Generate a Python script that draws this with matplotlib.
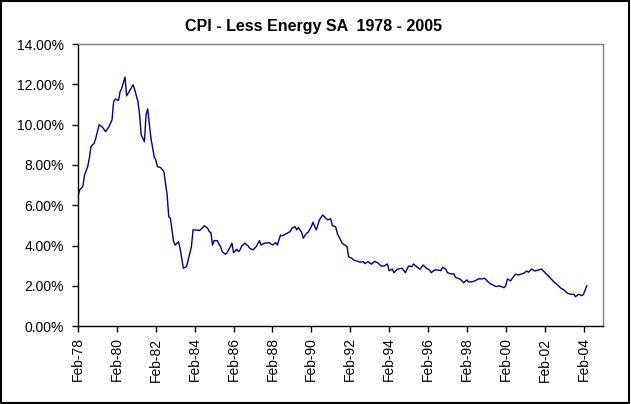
import matplotlib
matplotlib.use("Agg")
import matplotlib.pyplot as plt
from matplotlib.patches import Rectangle
from matplotlib.ticker import FuncFormatter

# months counted from Feb-78, values in percent
months = [0, 1, 3, 4, 6, 7, 8, 10, 11, 13, 15, 17, 19, 21, 22, 23, 25, 26, 27, 29,
          30, 31, 34, 35, 37, 38, 39, 41, 42, 43, 44, 45, 47, 48, 49, 51, 53, 55, 56, 57,
          59, 60, 62, 63, 64, 65, 67, 68, 70, 71, 73, 75, 77, 78, 80, 81, 82, 83, 84, 86,
          87, 88, 89, 91, 92, 94, 95, 96, 98, 99, 100, 101, 103, 105, 106, 108, 110, 112, 113, 115,
          118, 120, 122, 123, 125, 126, 129, 131, 132, 134, 135, 136, 138, 139, 141, 142, 144, 145, 147, 149,
          151, 153, 154, 156, 157, 159, 160, 162, 163, 166, 167, 169, 170, 172, 174, 176, 177, 179, 181, 183,
          185, 187, 189, 191, 192, 194, 195, 197, 200, 202, 204, 206, 207, 209, 211, 213, 215, 217, 218, 220,
          222, 224, 225, 227, 228, 230, 232, 233, 236, 238, 240, 241, 243, 245, 247, 249, 251, 253, 254, 256,
          258, 260, 261, 263, 264, 265, 267, 268, 270, 272, 275, 277, 278, 280, 282, 284, 286, 288, 290, 292,
          294, 296, 298, 300, 302, 304, 306, 307, 309, 311, 312, 313, 314]
cpi = [6.43, 6.76, 6.93, 7.50, 7.92, 8.34, 8.91, 9.08, 9.33, 9.99, 9.88, 9.66, 9.88, 10.24, 11.15, 11.27, 11.20, 11.64, 11.81, 12.36,
       11.43, 11.56, 11.98, 11.73, 11.15, 10.49, 9.49, 9.16, 10.49, 10.78, 10.07, 9.33, 8.42, 8.25, 7.92, 7.87, 7.67, 6.52, 5.44, 5.36,
       4.20, 4.03, 4.20, 3.87, 3.37, 2.88, 2.96, 3.29, 3.95, 4.78, 4.78, 4.75, 4.90, 4.99, 4.86, 4.70, 4.65, 4.03, 4.25, 4.25,
       4.08, 3.95, 3.70, 3.57, 3.65, 3.95, 4.12, 3.65, 3.82, 3.70, 3.79, 3.98, 4.12, 3.98, 3.87, 3.79, 3.95, 4.25, 4.03, 4.12,
       4.15, 4.03, 4.15, 4.03, 4.53, 4.48, 4.61, 4.70, 4.86, 4.94, 4.78, 4.90, 4.66, 4.37, 4.61, 4.66, 4.94, 5.16, 4.78, 5.28,
       5.52, 5.36, 5.28, 5.33, 4.99, 4.94, 4.61, 4.28, 4.12, 3.95, 3.45, 3.37, 3.29, 3.24, 3.18, 3.21, 3.11, 3.21, 3.08, 3.22,
       3.15, 2.99, 2.99, 3.09, 2.76, 2.83, 2.66, 2.83, 2.88, 2.66, 2.99, 2.96, 3.09, 2.96, 2.83, 3.04, 2.88, 2.79, 2.66, 2.79,
       2.79, 2.76, 2.93, 2.83, 2.66, 2.60, 2.60, 2.43, 2.33, 2.16, 2.30, 2.20, 2.21, 2.25, 2.35, 2.35, 2.38, 2.21, 2.13, 2.05,
       1.97, 2.01, 1.97, 1.92, 2.01, 2.35, 2.25, 2.38, 2.58, 2.55, 2.63, 2.74, 2.68, 2.84, 2.74, 2.79, 2.84, 2.68, 2.51, 2.35,
       2.18, 2.05, 1.89, 1.80, 1.64, 1.59, 1.59, 1.47, 1.59, 1.52, 1.59, 1.80, 2.01]

tick_months = list(range(0, 313, 24))
tick_labels = ["Feb-78", "Feb-80", "Feb-82", "Feb-84", "Feb-86", "Feb-88", "Feb-90",
               "Feb-92", "Feb-94", "Feb-96", "Feb-98", "Feb-00", "Feb-02", "Feb-04"]

plt.rcParams['font.family'] = ['Liberation Sans', 'DejaVu Sans']

fig = plt.figure(figsize=(6.31, 4.04), dpi=100)
ax = fig.add_axes([78 / 631, 1 - 326.3 / 404, 525 / 631, 282.3 / 404])

ax.plot(months, cpi, color='#000080', linewidth=1.0)

ax.set_xlim(0, 324)
ax.set_ylim(0, 14)
ax.set_yticks(range(0, 15, 2))
ax.yaxis.set_major_formatter(FuncFormatter(lambda v, p: f"{v:.2f}%"))
ax.set_xticks(tick_months)
ax.set_xticklabels(tick_labels, rotation=90)

ax.tick_params(axis='both', direction='out', length=4, width=1, colors='black', labelsize=10)
ax.tick_params(axis='y', pad=6)
ax.tick_params(axis='x', pad=4)

ax.spines['left'].set_color('black')
ax.spines['bottom'].set_color('black')
ax.spines['top'].set_color('#808080')
ax.spines['right'].set_color('#808080')
for s in ax.spines.values():
    s.set_linewidth(1)

fig.text(314 / 631, 1 - 27 / 404, "CPI - Less Energy SA  1978 - 2005",
         ha='center', va='center', fontsize=11.5, fontweight='bold')

# outer border of the chart area
fig.patches.append(Rectangle((0.002, 0.003), 0.995, 0.994, transform=fig.transFigure,
                             fill=False, edgecolor='black', linewidth=1.5))

fig.savefig("out.png", dpi=100)
